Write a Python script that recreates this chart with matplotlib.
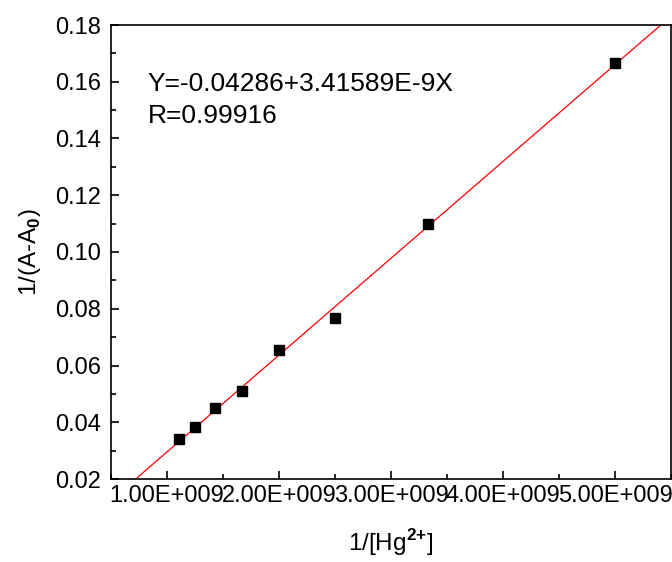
import numpy as np
import matplotlib.pyplot as plt
from matplotlib.ticker import MultipleLocator, FuncFormatter

plt.rcParams['font.family'] = ['Liberation Sans', 'DejaVu Sans']
plt.rcParams['mathtext.fontset'] = 'custom'
plt.rcParams['mathtext.rm'] = 'Liberation Sans'
plt.rcParams['mathtext.bf'] = 'Liberation Sans:bold'

# data
inv_hg = [1.111e9, 1.25e9, 1.4286e9, 1.667e9, 2.0e9, 2.5e9, 3.333e9, 5.0e9]
inv_abs = [0.0342, 0.0384, 0.0451, 0.0509, 0.0655, 0.0767, 0.1100, 0.1667]
fit_text = ["Y=-0.04286+3.41589E-9X", "R=0.99916"]

fig = plt.figure(figsize=(6.72, 5.62), dpi=100)
ax = fig.add_axes([111 / 672, 83 / 562, 560 / 672, 454 / 562])

# linear fit across the whole x range
slope, icpt = np.polyfit(inv_hg, inv_abs, 1)
xl = np.array([0.5e9, 5.5e9])
ax.plot(xl, icpt + slope * xl, color='red', lw=0.9, zorder=2)
ax.plot(inv_hg, inv_abs, 's', color='black', ms=7, zorder=3)

ax.set_xlim(0.5e9, 5.5e9)
ax.set_ylim(0.02, 0.18)
ax.xaxis.set_major_locator(MultipleLocator(1e9))
ax.xaxis.set_minor_locator(MultipleLocator(0.5e9))
ax.yaxis.set_major_locator(MultipleLocator(0.02))
ax.yaxis.set_minor_locator(MultipleLocator(0.01))


def sci(v, pos):
    m, e = f"{v:.2E}".split('E')
    return f"{m}E{e[0]}{int(e[1:]):03d}"


ax.xaxis.set_major_formatter(FuncFormatter(sci))
ax.yaxis.set_major_formatter(FuncFormatter(lambda v, p: f"{v:.2f}"))

ax.tick_params(which='both', direction='in', labelsize=17, width=1.2)
ax.tick_params(which='major', length=6)
ax.tick_params(which='minor', length=3.5)
ax.tick_params(axis='x', pad=4)
ax.tick_params(axis='y', pad=7)
for s in ax.spines.values():
    s.set_linewidth(1.2)

ax.set_xlabel(r'1/[Hg$^{\mathbf{2{+}}}$]', fontsize=17.5, labelpad=15)
ax.set_ylabel(r'1/(A-A$_{\mathbf{0}}$)', fontsize=17.5, labelpad=9)

ax.text(0.065, 0.855, fit_text[0], transform=ax.transAxes, fontsize=19)
ax.text(0.065, 0.785, fit_text[1], transform=ax.transAxes, fontsize=19)

fig.savefig('out.png', dpi=100)
